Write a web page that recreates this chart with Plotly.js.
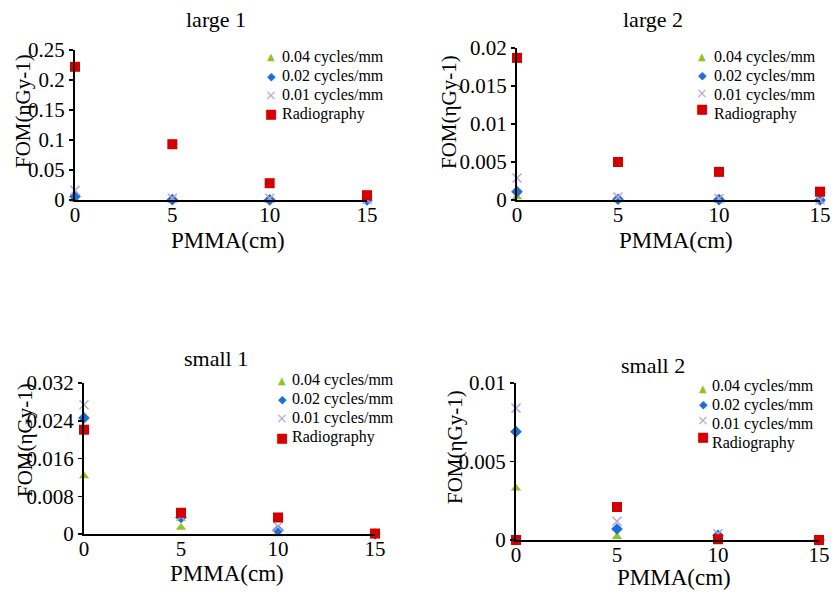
<!DOCTYPE html>
<html>
<head>
<meta charset="utf-8">
<script src="https://cdn.plot.ly/plotly-3.0.1.min.js"></script>
<style>html,body{margin:0;padding:0;background:#fff;}#chart{width:834px;height:592px;}</style>
</head>
<body>
<div id="chart"></div>
<script>
// ---- data ----
const pmma = [0, 5, 10, 15];
const seriesNames = ['0.04 cycles/mm', '0.02 cycles/mm', '0.01 cycles/mm', 'Radiography'];
const panelTitles = ['large 1', 'large 2', 'small 1', 'small 2'];
const xTitle = 'PMMA(cm)';
const yTitle = 'FOM(\u03b7Gy-1)';

const large1_004 = [0.001, 0, 0, 0];
const large1_002 = [0.006, 0.0005, 0.0003, 0];
const large1_001 = [0.016, 0.003, 0.003, 0.0005];
const large1_rad = [0.222, 0.093, 0.028, 0.008];

const large2_004 = [0.0004, 0, 0, 0];
const large2_002 = [0.0011, 0.0001, 0.00005, 0];
const large2_001 = [0.0029, 0.0004, 0.0002, 0];
const large2_rad = [0.0187, 0.0050, 0.0037, 0.0011];

const small1_004 = [0.0123, 0.0014, 0, 0];
const small1_002 = [0.0246, 0.0035, 0.0008, 0];
const small1_001 = [0.0274, 0.0037, 0.0016, 0];
const small1_rad = [0.0221, 0.0045, 0.0035, 0.0001];

const small2_004 = [0.0033, 0.0002, 0, 0];
const small2_002 = [0.0069, 0.0007, 0.0003, 0];
const small2_001 = [0.0084, 0.0012, 0.0004, 0];
const small2_rad = [0, 0.0021, 0.00005, 0];

const xTicks = [0, 5, 10, 15];
const yTicksLarge1 = [0, 0.05, 0.1, 0.15, 0.2, 0.25];
const yTicksLarge2 = [0, 0.005, 0.01, 0.015, 0.02];
const yTicksSmall1 = [0, 0.008, 0.016, 0.024, 0.032];
const yTicksSmall2 = [0, 0.005, 0.01];

// ---- styles ----
const W = 834, H = 592;
const serif = '"Liberation Serif", "DejaVu Serif", serif';
const colors = ['#92c31e', '#1c6fd6', '#b7a6d6', '#d40000'];
const symbols = ['triangle-up', 'diamond', 'x-thin', 'square'];
const sizes = [9, 9, 9, 10];
const glyphs = ['\u25B2', '\u25C6', '\u00D7', '\u25A0'];
const glyphSizes = [10, 11, 14, 13];

const panels = [
  {series: [large1_004, large1_002, large1_001, large1_rad], yTicks: yTicksLarge1, yMax: 0.25,
   dom: {x0: 75, x1: 367, y0: 50, y1: 200}, title: [216, 20], ytitle: [23, 111], xtitle: [228, 241],
   leg: {mx: 271, tx: 280, ty: [57, 76, 95, 114], my: [57, 76, 95, 114]}},
  {series: [large2_004, large2_002, large2_001, large2_rad], yTicks: yTicksLarge2, yMax: 0.02,
   dom: {x0: 517, x1: 820, y0: 48, y1: 200}, title: [653, 20], ytitle: [449, 112], xtitle: [676, 241],
   leg: {mx: 702, tx: 712, ty: [57, 76, 95, 114], my: [57, 75, 93, 108]}},
  {series: [small1_004, small1_002, small1_001, small1_rad], yTicks: yTicksSmall1, yMax: 0.032,
   dom: {x0: 84, x1: 375, y0: 383, y1: 534}, title: [216, 358], ytitle: [25, 440], xtitle: [227, 573],
   leg: {mx: 282, tx: 290, ty: [380, 399, 418, 437], my: [380, 399, 418, 437]}},
  {series: [small2_004, small2_002, small2_001, small2_rad], yTicks: yTicksSmall2, yMax: 0.01,
   dom: {x0: 516, x1: 819, y0: 383, y1: 540}, title: [653, 365], ytitle: [455, 447], xtitle: [674, 577],
   leg: {mx: 703, tx: 710, ty: [386, 405, 424, 443], my: [388, 404, 420, 436]}}
];

const px = v => v / W;
const py = v => 1 - v / H;

const traces = [];
const layout = {
  width: W, height: H,
  margin: {l: 0, r: 0, t: 0, b: 0},
  paper_bgcolor: '#ffffff', plot_bgcolor: 'rgba(0,0,0,0)',
  showlegend: false,
  font: {family: serif, color: '#000000'},
  annotations: []
};

panels.forEach((p, i) => {
  const n = i === 0 ? '' : String(i + 1);
  const xa = 'x' + n, ya = 'y' + n;
  p.series.forEach((vals, s) => {
    traces.push({
      type: 'scatter', mode: 'markers',
      x: pmma, y: vals, name: seriesNames[s],
      xaxis: xa, yaxis: ya, cliponaxis: false,
      marker: {symbol: symbols[s], size: sizes[s], color: colors[s],
               line: {color: colors[s], width: s === 2 ? 1.5 : 0}}
    });
  });
  layout['xaxis' + n] = {
    domain: [px(p.dom.x0), px(p.dom.x1)], anchor: ya,
    range: [0, 15], tickvals: xTicks, ticktext: xTicks.map(String),
    showline: true, linecolor: '#000000', linewidth: 2,
    showgrid: false, zeroline: false, ticks: '',
    ticklabelstandoff: -5,
    tickfont: {family: serif, size: 21, color: '#000000'},
    fixedrange: true
  };
  layout['yaxis' + n] = {
    domain: [py(p.dom.y1), py(p.dom.y0)], anchor: xa,
    range: [0, p.yMax], tickvals: p.yTicks, ticktext: p.yTicks.map(String),
    showline: true, linecolor: '#000000', linewidth: 2,
    showgrid: false, zeroline: false,
    ticks: 'outside', ticklen: 4, tickwidth: 1.5, tickcolor: '#000000',
    tickfont: {family: serif, size: 21, color: '#000000'},
    fixedrange: true
  };
  layout.annotations.push({
    text: panelTitles[i], xref: 'paper', yref: 'paper',
    x: px(p.title[0]), y: py(p.title[1]), xanchor: 'center', yanchor: 'middle',
    showarrow: false, font: {family: serif, size: 22, color: '#000000'}
  });
  layout.annotations.push({
    text: yTitle, xref: 'paper', yref: 'paper', textangle: -90,
    x: px(p.ytitle[0]), y: py(p.ytitle[1]), xanchor: 'center', yanchor: 'middle',
    showarrow: false, font: {family: serif, size: 21, color: '#000000'}
  });
  layout.annotations.push({
    text: xTitle, xref: 'paper', yref: 'paper',
    x: px(p.xtitle[0]), y: py(p.xtitle[1]), xanchor: 'center', yanchor: 'middle',
    showarrow: false, font: {family: serif, size: 23, color: '#000000'}
  });
  seriesNames.forEach((name, s) => {
    layout.annotations.push({
      text: name, xref: 'paper', yref: 'paper',
      x: px(p.leg.tx), y: py(p.leg.ty[s]), xanchor: 'left', yanchor: 'middle',
      showarrow: false, font: {family: serif, size: 16, color: '#000000'}
    });
    layout.annotations.push({
      text: glyphs[s], xref: 'paper', yref: 'paper',
      x: px(p.leg.mx), y: py(p.leg.my[s]), xanchor: 'center', yanchor: 'middle',
      showarrow: false, font: {family: '"DejaVu Sans"', size: glyphSizes[s], color: colors[s]}
    });
  });
});

Plotly.newPlot('chart', traces, layout, {staticPlot: true, displayModeBar: false});
</script>
</body>
</html>
